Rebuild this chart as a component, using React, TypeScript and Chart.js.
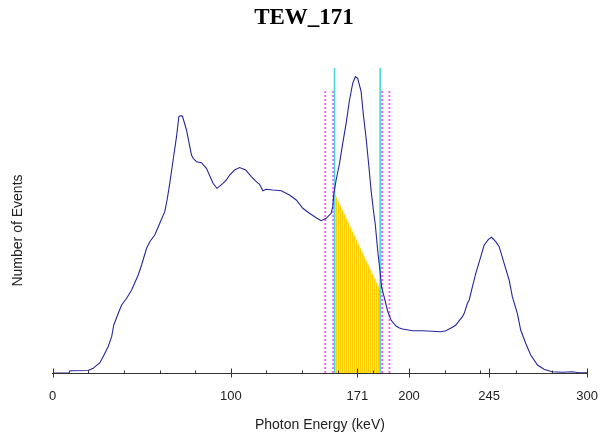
import React, { useEffect, useRef } from 'react';
import { Chart, registerables } from 'chart.js';

Chart.register(...registerables);

// ---------- data ----------
const chartTitle = 'TEW_171';
const xTitle = 'Photon Energy (keV)';
const yTitle = 'Number of Events';

const energies = [
  0, 9.1, 9.7, 19.9, 22.7, 26.5, 28.3, 31.1, 33.1, 34.3, 36.8, 38.7, 41.5, 44.3, 48.0, 49.9,
  52.7, 54.5, 57.3, 60.1, 62.9, 64.2, 65.7, 67.6, 69.5, 70.8, 71.6, 72.8, 75.1, 77.9, 78.8,
  80.7, 83.5, 86.3, 90.0, 92.2, 95.6, 97.5, 99.3, 102.1, 104.9, 108.3, 111.5, 114.3, 116.1,
  118.0, 119.9, 123.6, 128.3, 132.9, 136.7, 140.4, 144.1, 147.9, 150.7, 153.5, 156.3, 157.2,
  157.8, 159.1, 161.0, 162.8, 164.7, 166.6, 168.4, 169.9, 171.2, 173.1, 174.4, 175.9, 177.4,
  178.7, 180.0, 181.1, 182.4, 183.8, 184.6, 186.2, 188.0, 189.9, 192.7, 194.6, 196.4, 202.0,
  207.6, 213.2, 217.9, 220.7, 224.4, 226.3, 228.2, 230.0, 231.0, 232.8, 233.8, 235.6, 237.5,
  240.3, 242.2, 244.6, 246.3, 248.7, 250.6, 253.4, 256.2, 258.0, 260.8, 262.7, 265.5, 268.3,
  272.1, 275.8, 280.2, 286.0, 291.6, 295.5, 299.2, 300,
];

const counts = [
  0, 0, 2.3, 2.5, 4.7, 10.3, 16.3, 26.3, 36.3, 48, 59.7, 68, 74.7, 83, 98, 108,
  124.7, 131.3, 138, 149.7, 161.3, 173, 189.7, 213, 236.3, 256.3, 257.3, 257, 243, 218, 214.7,
  211.3, 210.3, 204.7, 189.7, 184.7, 189.7, 193, 198, 203, 205.5, 203, 196.3, 191.3, 188.7,
  182.3, 183.7, 183, 182.3, 178, 173, 164.7, 159.7, 155.3, 152.3, 154.7, 159.7, 166.3,
  179.7, 193, 209.7, 229.7, 249.7, 273, 289.7, 296.3, 294.7, 281.7, 258, 235, 208,
  183, 163, 148, 123, 101, 86, 75, 62, 53, 47, 45, 44, 42.3,
  42.3, 41.7, 41.3, 42.3, 45.7, 48, 52.3, 56.3, 59.7, 69.7, 73, 86.3, 99.7,
  116.3, 128, 133.7, 135.7, 131.3, 126.3, 109.7, 93, 76.3, 59.7, 43, 29.7, 18,
  8, 3.7, 1.3, 0.7, 1.3, 0.3, 0.3, 0.3,
];

const majorTicks = [0, 100, 171, 200, 245, 300];
const minorTicks = [20, 40, 60, 80, 120, 140, 160, 180, 220, 240, 260, 280];

const photopeakWindow = [158.2, 183.8];
const scatterWindowEdges = [153.0, 157.4, 184.9, 189.0];
const trapezoidHeights = [180, 83];
const yMax = 305;
const scatterLineTop = 282;

// ---------- helpers ----------
function makeStripePattern(): CanvasPattern | string {
  const c = document.createElement('canvas');
  c.width = 2;
  c.height = 1;
  const g = c.getContext('2d');
  if (!g) return '#FFD200';
  g.fillStyle = '#FFCC00';
  g.fillRect(0, 0, 1, 1);
  g.fillStyle = '#FFEA78';
  g.fillRect(1, 0, 1, 1);
  const p = g.createPattern(c, 'repeat');
  return p || '#FFD200';
}

const axisDecor = {
  id: 'axisDecor',
  afterDraw(chart: any) {
    const { ctx, chartArea } = chart;
    const xs = chart.scales.x;
    const y = Math.round(chartArea.bottom) + 0.5;
    ctx.save();
    ctx.strokeStyle = '#333';
    ctx.lineWidth = 1;
    ctx.beginPath();
    for (const v of majorTicks) {
      const px = Math.round(xs.getPixelForValue(v)) + 0.5;
      ctx.moveTo(px, y - 5);
      ctx.lineTo(px, y + 4);
    }
    for (const v of minorTicks) {
      const px = Math.round(xs.getPixelForValue(v)) + 0.5;
      ctx.moveTo(px, y - 3);
      ctx.lineTo(px, y);
    }
    ctx.stroke();
    ctx.translate(18.5, (chartArea.top + chartArea.bottom) / 2 + 10);
    ctx.rotate(-Math.PI / 2);
    ctx.font = '14px "Liberation Sans", Arial, sans-serif';
    ctx.fillStyle = '#222';
    ctx.textAlign = 'center';
    ctx.textBaseline = 'middle';
    ctx.fillText(yTitle, 0, 0);
    ctx.restore();
  },
};

export default function App() {
  const ref = useRef<HTMLCanvasElement | null>(null);

  useEffect(() => {
    if (!ref.current) return;
    const curve = energies.map((e, i) => ({ x: e, y: counts[i] }));
    const trapezoid = photopeakWindow.map((e, i) => ({ x: e, y: trapezoidHeights[i] }));
    const cyanSets = photopeakWindow.map((e) => ({
      data: [{ x: e, y: 0 }, { x: e, y: yMax }],
      borderColor: '#48D8D8',
      borderWidth: 1.6,
      pointRadius: 0,
      fill: false,
      order: 1,
    }));
    const magentaSets = scatterWindowEdges.map((e) => ({
      data: [{ x: e, y: 0 }, { x: e, y: scatterLineTop }],
      borderColor: '#FF55FF',
      borderWidth: 1.8,
      borderDash: [2, 2],
      pointRadius: 0,
      fill: false,
      order: 2,
    }));

    const chart = new Chart(ref.current, {
      type: 'line',
      data: {
        datasets: [
          {
            data: curve,
            borderColor: '#26269A',
            borderWidth: 1.1,
            pointRadius: 0,
            tension: 0,
            fill: false,
            order: 0,
          },
          ...cyanSets,
          ...magentaSets,
          {
            data: trapezoid,
            borderWidth: 0,
            borderColor: 'rgba(0,0,0,0)',
            backgroundColor: makeStripePattern(),
            pointRadius: 0,
            fill: 'origin',
            order: 3,
          },
        ] as any,
      },
      options: {
        animation: false,
        responsive: false,
        layout: { padding: 0 },
        plugins: {
          legend: { display: false },
          tooltip: { enabled: false },
          title: {
            display: true,
            text: chartTitle,
            color: '#000',
            font: { family: '"Liberation Serif", "Times New Roman", serif', size: 23, weight: 'bold' },
            padding: { top: 4, bottom: 36.4 },
          },
        },
        scales: {
          x: {
            type: 'linear',
            min: 0,
            max: 300,
            afterBuildTicks: (scale: any) => {
              scale.ticks = [...majorTicks, ...minorTicks]
                .sort((a, b) => a - b)
                .map((v) => ({ value: v }));
            },
            ticks: {
              autoSkip: false,
              maxRotation: 0,
              padding: 10,
              color: '#222',
              font: { family: '"Liberation Sans", Arial, sans-serif', size: 13 },
              callback: (value: any) => (majorTicks.includes(Number(value)) ? String(value) : ''),
            },
            grid: {
              display: true,
              drawOnChartArea: false,
              drawTicks: true,
              tickLength: 6,
              color: 'rgba(0,0,0,0)',
            },
            border: { display: true, color: '#333', width: 1 },
            title: {
              display: true,
              text: xTitle,
              color: '#222',
              font: { family: '"Liberation Sans", Arial, sans-serif', size: 14 },
              padding: { top: 2.6, bottom: 0 },
            },
          },
          y: {
            display: true,
            position: 'left',
            min: 0,
            max: yMax,
            ticks: { display: false },
            grid: { display: false, drawTicks: false },
            border: { display: false },
            afterFit: (s: any) => {
              s.width = 52.7;
            },
          },
          yRight: {
            display: true,
            position: 'right',
            min: 0,
            max: yMax,
            ticks: { display: false },
            grid: { display: false, drawTicks: false },
            border: { display: false },
            afterFit: (s: any) => {
              s.width = 19.7;
            },
          },
        },
      } as any,
      plugins: [axisDecor],
    });
    return () => chart.destroy();
  }, []);

  return (
    <div style={{ position: 'fixed', left: 0, top: 0, width: 608, height: 434, background: '#fff' }}>
      <canvas ref={ref} width={608} height={434} style={{ display: 'block' }} />
    </div>
  );
}
